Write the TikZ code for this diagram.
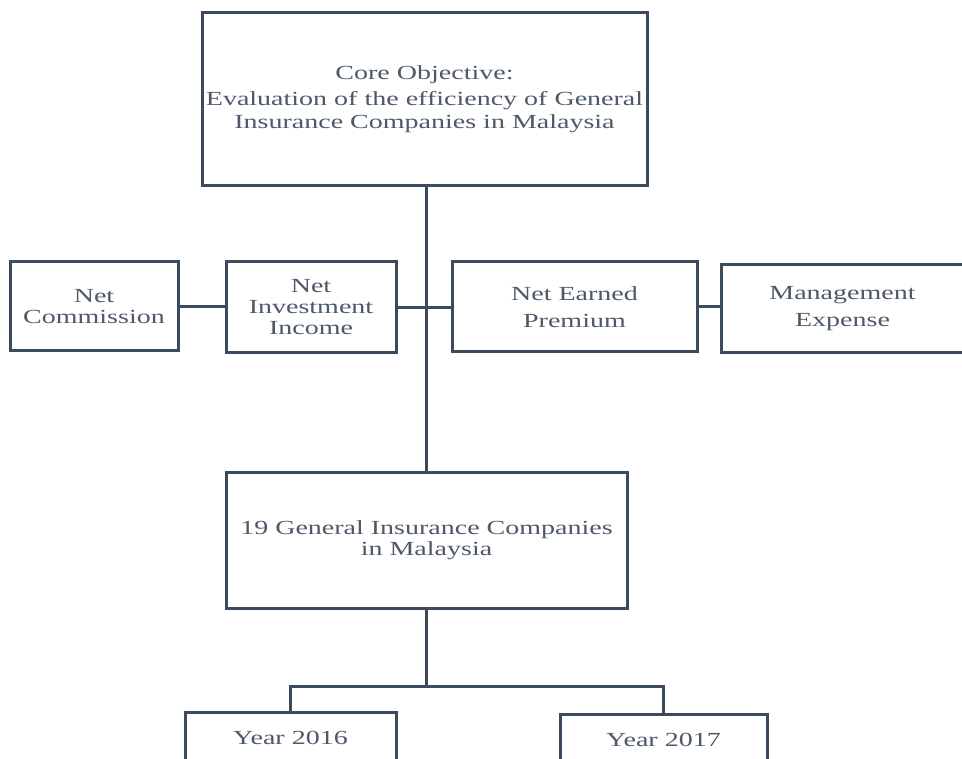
\documentclass[tikz,border=0pt]{standalone}
\usepackage{fontspec}
\setmainfont[FakeStretch=1.4]{Liberation Serif}
\definecolor{linec}{HTML}{3C4A5E}
\definecolor{textc}{HTML}{4D5868}
\begin{document}
\begin{tikzpicture}[x=1pt,y=-1pt,
  box/.style={draw=linec,line width=3pt,rectangle,inner sep=0pt,align=center,
    text=textc,font=\fontsize{20}{21}\selectfont},
  conn/.style={draw=linec,line width=3pt}]
\useasboundingbox (0,0) rectangle (962,759);
\clip (0,0) rectangle (962,759);
\node[box,minimum width=445pt,minimum height=173pt,font=\fontsize{20}{23}\selectfont] (core) at (424.5,99.5)
  {Core Objective:\\[3pt]Evaluation of the efficiency of General\\Insurance Companies in Malaysia};
\node[box,minimum width=168pt,minimum height=89pt] (comm) at (94,306.5) {Net\\Commission};
\node[box,minimum width=170pt,minimum height=91pt] (inv) at (311,307.5) {Net\\Investment\\Income};
\node[box,minimum width=245pt,minimum height=90pt,font=\fontsize{20}{27}\selectfont] (prem) at (574.5,307) {Net Earned\\Premium};
\node[box,minimum width=243pt,minimum height=88pt,font=\fontsize{20}{27}\selectfont] (mgmt) at (842.5,309) {Management\\Expense};
\node[box,minimum width=401pt,minimum height=136pt] (gen) at (426.5,540) {19 General Insurance Companies\\in Malaysia};
\node[box,minimum width=211pt,minimum height=52pt] (y16) at (290.5,738) {Year 2016};
\node[box,minimum width=207pt,minimum height=52pt] (y17) at (663.5,740) {Year 2017};
\coordinate (split) at (426.5,686);
\draw[conn] (core.south -| gen.north) -- (gen.north);
\draw[conn] (comm.east) -- (comm.east -| inv.west);
\draw[conn] (inv.east) -- (inv.east -| prem.west);
\draw[conn] (prem.east) -- (prem.east -| mgmt.west);
\draw[conn] (gen.south) -- (split);
\draw[conn] (y16.north) |- (split) -| (y17.north);
\end{tikzpicture}
\end{document}
